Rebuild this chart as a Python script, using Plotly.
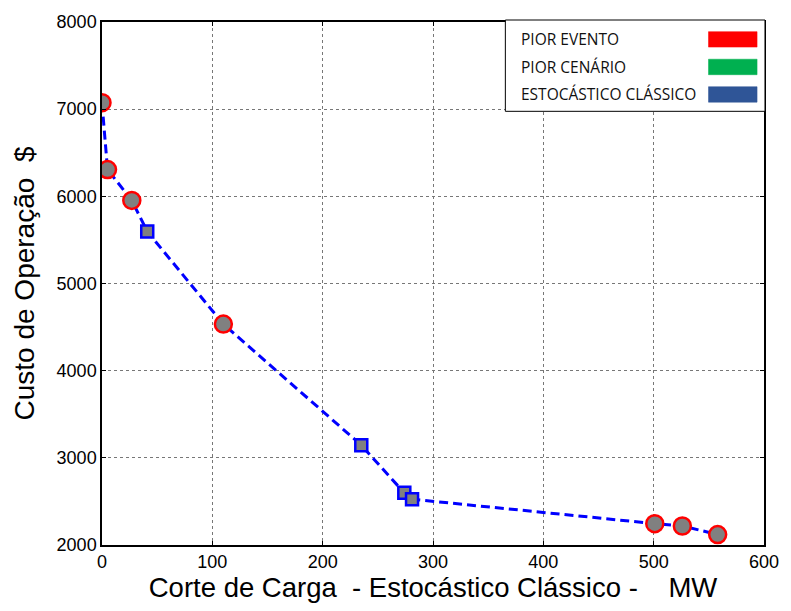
import plotly.graph_objects as go

# Data
pior_evento_x = [0, 5, 27, 110, 501, 526, 558]
pior_evento_y = [7075, 6307, 5953, 4534, 2245, 2218, 2120]
estocastico_x = [41, 235, 274, 281]
estocastico_y = [5597, 3145, 2598, 2525]
frente_x = [0, 5, 27, 41, 110, 235, 274, 281, 501, 526, 558]
frente_y = [7075, 6307, 5953, 5597, 4534, 3145, 2598, 2525, 2245, 2218, 2120]

legend_labels = ["PIOR EVENTO", "PIOR CENÁRIO", "ESTOCÁSTICO CLÁSSICO"]
legend_colors = ["#FF0000", "#00B050", "#2F5597"]

x_ticks = [0, 100, 200, 300, 400, 500, 600]
y_ticks = [2000, 3000, 4000, 5000, 6000, 7000, 8000]

NB = "\u00a0"
x_title = f"Corte de Carga{NB}{NB}- Estocástico Clássico -{NB}{NB}{NB}{NB}MW"
y_title = f"Custo de Operação{NB}{NB}$"

W, H = 791, 611
L, R, T, B = 102, 21, 18, 66
pw, ph = W - L - R, H - T - B

def px_x(p):
    return (p - L) / pw

def px_y(p):
    return (H - B - p) / ph

fig = go.Figure()
fig.add_trace(go.Scatter(x=frente_x, y=frente_y, mode="lines",
                         line=dict(color="#0000FF", width=3, dash="9px,5px"),
                         showlegend=False, hoverinfo="skip"))
fig.add_trace(go.Scatter(x=estocastico_x, y=estocastico_y, mode="markers",
                         marker=dict(symbol="square", size=12, color="#808080",
                                     line=dict(color="#0000FF", width=2.5)),
                         showlegend=False))
fig.add_trace(go.Scatter(x=pior_evento_x, y=pior_evento_y, mode="markers",
                         marker=dict(symbol="circle", size=17, color="#808080",
                                     line=dict(color="#FF0000", width=2.5)),
                         showlegend=False))

# Legend box
fig.add_shape(type="rect", xref="paper", yref="paper",
              x0=px_x(509), x1=px_x(771), y0=px_y(108), y1=px_y(16),
              line=dict(color="black", width=1), fillcolor="white", layer="above")
rows_y = [35.5, 63.3, 91]
for lab, col, yc in zip(legend_labels, legend_colors, rows_y):
    fig.add_annotation(text=lab, xref="paper", yref="paper", x=px_x(523), y=px_y(yc),
                       xanchor="left", yanchor="middle", showarrow=False,
                       font=dict(family="Open Sans", size=15.5, color="#111"))
    fig.add_shape(type="rect", xref="paper", yref="paper",
                  x0=px_x(714), x1=px_x(763), y0=px_y(yc + 7.8), y1=px_y(yc - 7.8),
                  line=dict(color=col, width=0.5), fillcolor=col, layer="above")

axis_common = dict(showline=True, linecolor="black", linewidth=1.5, mirror="ticks",
                   ticks="inside", ticklen=4, tickcolor="black",
                   showgrid=True, gridcolor="#777", griddash="dot", gridwidth=1,
                   zeroline=False,
                   tickfont=dict(family="Liberation Sans", size=18, color="black"))

fig.update_layout(
    width=W, height=H,
    margin=dict(l=L, r=R, t=T, b=B),
    paper_bgcolor="white", plot_bgcolor="white",
    showlegend=False,
    xaxis=dict(range=[0, 600], tickvals=x_ticks, ticktext=[str(v) for v in x_ticks],
               title=dict(text=x_title,
                          font=dict(family="Liberation Sans", size=27.5, color="black"),
                          standoff=0),
               **axis_common),
    yaxis=dict(range=[2000, 8000], tickvals=y_ticks, ticktext=[str(v) for v in y_ticks],
               title=dict(text=y_title,
                          font=dict(family="Liberation Sans", size=28, color="black"),
                          standoff=14),
               **axis_common),
)

fig.write_html("out.html")
